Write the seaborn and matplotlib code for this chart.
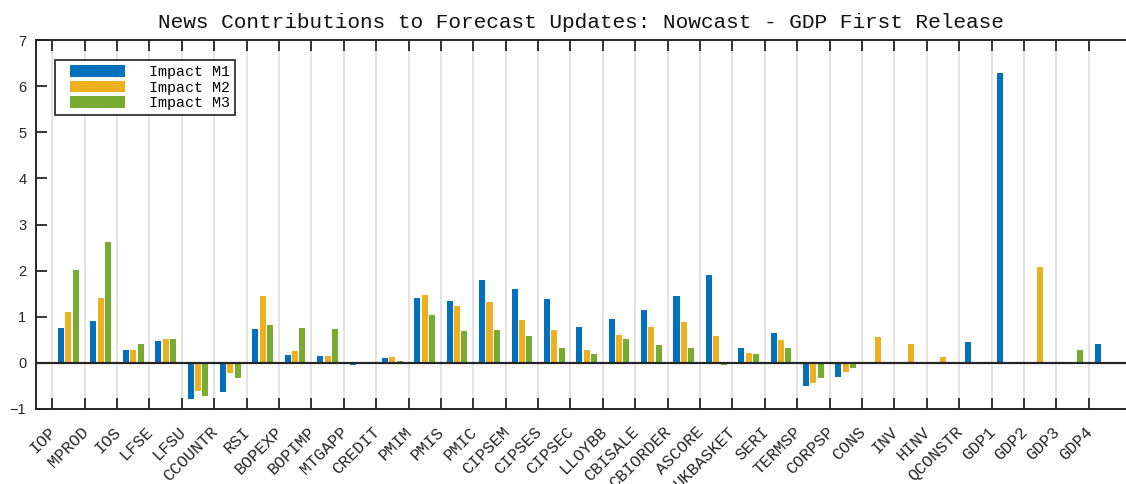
import numpy as np
import pandas as pd
import matplotlib
matplotlib.use("Agg")
import matplotlib.pyplot as plt
import matplotlib.transforms as mtransforms
from matplotlib.legend_handler import HandlerPatch
from matplotlib.patches import Patch, Rectangle
import seaborn as sns

# Data series
categories = ["IOP", "MPROD", "IOS", "LFSE", "LFSU", "CCOUNTR", "RSI", "BOPEXP",
              "BOPIMP", "MTGAPP", "CREDIT", "PMIM", "PMIS", "PMIC", "CIPSEM",
              "CIPSES", "CIPSEC", "LLOYBB", "CBISALE", "CBIORDER", "ASCORE",
              "UKBASKET", "SERI", "TERMSP", "CORPSP", "CONS", "INV", "HINV",
              "QCONSTR", "GDP1", "GDP2", "GDP3", "GDP4"]
impact_m1 = [0.76, 0.91, 0.28, 0.47, -0.79, -0.64, 0.73, 0.17, 0.15, -0.05, 0.10,
             1.41, 1.35, 1.80, 1.60, 1.39, 0.78, 0.95, 1.15, 1.45, 1.91, 0.32, 0.65,
             -0.50, -0.31, 0.0, 0.0, 0.0, 0.45, 6.28, 0.0, 0.0, 0.41]
impact_m2 = [1.10, 1.41, 0.28, 0.52, -0.60, -0.23, 1.45, 0.26, 0.15, -0.01, 0.12,
             1.48, 1.24, 1.32, 0.93, 0.71, 0.28, 0.60, 0.78, 0.89, 0.58, 0.21, 0.49,
             -0.44, -0.20, 0.56, 0.41, 0.12, 0.0, 0.0, 2.08, 0.0, 0.0]
impact_m3 = [2.02, 2.61, 0.41, 0.52, -0.72, -0.33, 0.82, 0.76, 0.73, 0.0, 0.035,
             1.04, 0.69, 0.71, 0.58, 0.32, 0.19, 0.52, 0.39, 0.32, -0.05, 0.19, 0.32,
             -0.33, -0.11, 0.0, 0.0, 0.0, 0.0, 0.0, 0.0, 0.28, 0.0]
series_names = ["Impact M1", "Impact M2", "Impact M3"]
colors = ["#0072BD", "#EDB120", "#77AC30"]
title = "News Contributions to Forecast Updates: Nowcast - GDP First Release"

df = pd.DataFrame({
    "category": categories * 3,
    "value": impact_m1 + impact_m2 + impact_m3,
    "series": np.repeat(series_names, len(categories)),
})

mono = "Liberation Mono"
axcol = "#262626"

fig = plt.figure(figsize=(11.26, 4.84), dpi=100)
ax = fig.add_axes([36 / 1126, 75 / 484, 1090 / 1126, 369 / 484])

sns.barplot(data=df, x="category", y="value", hue="series", order=categories,
            hue_order=series_names, palette=colors, saturation=1,
            width=0.68, gap=0.18, linewidth=0, errorbar=None, ax=ax)

handles, labels = ax.get_legend_handles_labels()
if ax.get_legend() is not None:
    ax.get_legend().remove()

ax.axhline(0, color=axcol, lw=1.6, zorder=3)

n = len(categories)
ax.set_xlim(-1.0, n - 0.35)
ax.set_ylim(-1, 7)
ax.set_yticks(range(-1, 8))
ax.set_xticks(np.arange(n) - 0.5)
ax.set_xticklabels(categories, rotation=45, ha="right", rotation_mode="anchor",
                   fontfamily=mono, fontsize=12, color=axcol)
for t in ax.get_yticklabels():
    t.set_fontfamily("Liberation Sans")
    t.set_fontsize(10.5)
    t.set_color(axcol)

ax.tick_params(axis="x", direction="in", length=8, width=1.3, color=axcol,
               top=True, bottom=True, pad=11)
ax.tick_params(axis="y", direction="in", length=8, width=1.3, color=axcol,
               left=True, right=False, pad=7)
ax.set_xlabel("")
ax.set_ylabel("")

# nudge the rotated category labels slightly to the left
shift = mtransforms.ScaledTranslation(-4 / 100, 0, fig.dpi_scale_trans)
for t in ax.get_xticklabels():
    t.set_transform(t.get_transform() + shift)

ax.xaxis.grid(True, color="#dedede", lw=1.2)
ax.yaxis.grid(False)
ax.set_axisbelow(True)

for side in ["left", "top", "bottom"]:
    ax.spines[side].set_color(axcol)
    ax.spines[side].set_linewidth(1.4)
ax.spines["right"].set_visible(False)

ax.set_title(title, fontfamily=mono, fontsize=15.2, color="#111111", pad=8.6)


def inset_patch(legend, orig_handle, xdescent, ydescent, width, height, fontsize):
    inset = 7
    return Rectangle((-xdescent + inset, -ydescent), width - inset, height)


leg = ax.legend(handles, labels, loc="upper left", bbox_to_anchor=(0.0174, 0.946),
                borderaxespad=0, frameon=True, fancybox=False, edgecolor="#111111",
                prop={"family": mono, "size": 10.8}, handlelength=4.3,
                handleheight=0.8, handletextpad=1.6, labelspacing=0.1,
                borderpad=0.35,
                handler_map={Patch: HandlerPatch(patch_func=inset_patch)})
leg.get_frame().set_linewidth(1.4)

fig.savefig("out.png", dpi=100)
